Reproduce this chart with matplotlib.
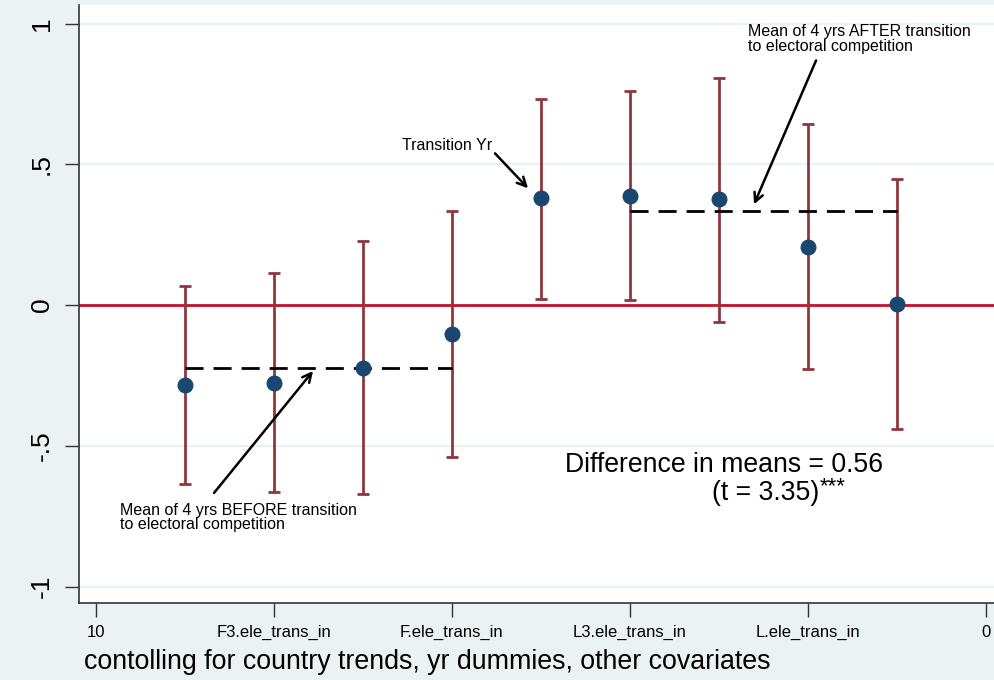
import matplotlib.pyplot as plt

plt.rcParams['font.family'] = ['Liberation Sans', 'DejaVu Sans']

# --- coefficient estimates and 95% CIs ---
pos = [9, 8, 7, 6, 5, 4, 3, 2, 1]
coef = [-0.283, -0.275, -0.222, -0.101, 0.379, 0.388, 0.377, 0.208, 0.004]
ci_hi = [0.068, 0.114, 0.227, 0.335, 0.732, 0.759, 0.806, 0.643, 0.448]
ci_lo = [-0.634, -0.662, -0.671, -0.539, 0.021, 0.018, -0.059, -0.227, -0.440]

mean_before = -0.222
mean_after = 0.333
before_span = [9, 6]
after_span = [4, 1]

xtick_pos = [10, 8, 6, 4, 2, 0]
xtick_lab = ["10", "F3.ele_trans_in", "F.ele_trans_in", "L3.ele_trans_in", "L.ele_trans_in", "0"]
ytick_pos = [-1, -0.5, 0, 0.5, 1]
ytick_lab = ["-1", "-.5", "0", ".5", "1"]

bg = "#eaf2f3"
navy = "#1a476f"
maroon = "#90353b"

fig = plt.figure(figsize=(9.95, 6.8), dpi=100, facecolor=bg)
ax = fig.add_axes([79 / 995, 77 / 680, 916 / 995, 598 / 680])
ax.set_facecolor("white")

# grid + zero line
for y in ytick_pos:
    ax.axhline(y, color=bg, lw=1.6, zorder=0)
ax.axhline(0, color="#c8102e", lw=2, zorder=1)

# error bars
err_lo = [c - l for c, l in zip(coef, ci_lo)]
err_hi = [h - c for c, h in zip(coef, ci_hi)]
ax.errorbar(pos, coef, yerr=[err_lo, err_hi], fmt="none", ecolor=maroon,
            elinewidth=2, capsize=4.5, capthick=2, zorder=2)

# mean lines
ax.plot(before_span, [mean_before, mean_before], color="black", lw=2,
        dashes=(6.5, 3.6), zorder=3)
ax.plot(after_span, [mean_after, mean_after], color="black", lw=2,
        dashes=(6.5, 3.6), zorder=3)

ax.plot(pos, coef, "o", color=navy, ms=10.5, zorder=4)

# annotations
arr = dict(arrowstyle="->", lw=1.8, color="black", mutation_scale=16,
           shrinkA=0, shrinkB=0)
ax.annotate("", xy=(5.144, 0.415), xytext=(5.515, 0.539), arrowprops=arr)
ax.text(6.56, 0.567, "Transition Yr", fontsize=11.5, ha="left", va="center")

ax.annotate("", xy=(2.606, 0.358), xytext=(1.909, 0.869), arrowprops=arr)
ax.text(2.673, 0.945, "Mean of 4 yrs AFTER transition\nto electoral competition",
        fontsize=11.5, ha="left", va="center", linespacing=0.95)

ax.annotate("", xy=(7.559, -0.234), xytext=(8.671, -0.667), arrowprops=arr)
ax.text(9.727, -0.754, "Mean of 4 yrs BEFORE transition\nto electoral competition",
        fontsize=11.5, ha="left", va="center", linespacing=0.95)

ax.text(4.729, -0.567, "Difference in means = 0.56", fontsize=19.2,
        ha="left", va="center")
ax.text(3.078, -0.667, "(t = 3.35)", fontsize=19.2, ha="left", va="center")
ax.text(1.87, -0.645, "***", fontsize=16, ha="left", va="center")

# axes
ax.set_xlim(10.188, -0.101)
ax.set_ylim(-1.058, 1.066)
ax.set_xticks(xtick_pos)
ax.set_xticklabels(xtick_lab, fontsize=12)
ax.set_yticks(ytick_pos)
ax.set_yticklabels(ytick_lab, fontsize=19, rotation=90, va="center")
ax.tick_params(axis="both", length=10, width=1, color="#333333")
ax.tick_params(axis="y", pad=8)
ax.tick_params(axis="x", pad=6)
for s in ["top", "right"]:
    ax.spines[s].set_visible(False)
for s in ["left", "bottom"]:
    ax.spines[s].set_color("#333333")
    ax.spines[s].set_linewidth(1.2)

fig.text(84 / 995, 1 - 662 / 680,
         "contolling for country trends, yr dummies, other covariates",
         fontsize=19.3, ha="left", va="center")

fig.savefig("out.png", dpi=100, facecolor=bg)
